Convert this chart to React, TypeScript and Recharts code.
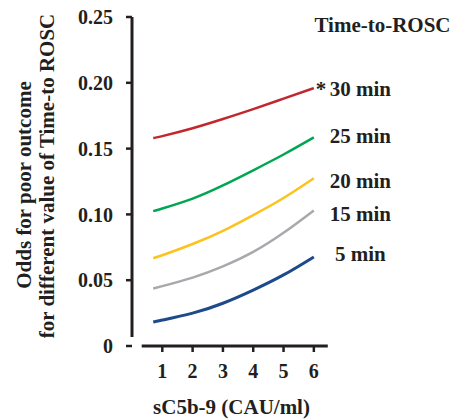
import React from 'react';
import { LineChart, Line, XAxis, YAxis, ReferenceLine, LabelList } from 'recharts';

// sC5b-9 values (x) and predicted odds per Time-to-ROSC group
const xValues = [0.7, 1, 2, 3, 4, 5, 6];
const min30 = [0.158, 0.1595, 0.1655, 0.1725, 0.18, 0.188, 0.196];
const min25 = [0.1025, 0.1045, 0.112, 0.122, 0.1335, 0.1455, 0.1585];
const min20 = [0.0669, 0.069, 0.0775, 0.0875, 0.0995, 0.1125, 0.1275];
const min15 = [0.0437, 0.0455, 0.052, 0.0605, 0.0715, 0.086, 0.103];
const min5 = [0.0182, 0.0197, 0.025, 0.0325, 0.0425, 0.054, 0.0677];

const xTicks = [1, 2, 3, 4, 5, 6];
const yTicks = [0, 0.05, 0.1, 0.15, 0.2, 0.25];

const seriesNames = ['30 min', '25 min', '20 min', '15 min', '5 min'];
const seriesKeys = ['m30', 'm25', 'm20', 'm15', 'm5'];
const seriesValues = [min30, min25, min20, min15, min5];

const data = xValues.map((x, i) => {
  const row: Record<string, number> = { x };
  seriesKeys.forEach((k, s) => {
    row[k] = seriesValues[s][i];
  });
  return row;
});

const colors = ['#c1272d', '#00a651', '#fcc31e', '#a7a9ac', '#1c4a8a'];
const widths = [2.5, 2.5, 2.5, 2.5, 3];
// nudge of each end label (baseline relative to line end)
const labelDy = [7.5, 6, 9.5, 11, 4];

const FONT = '"Liberation Serif", "Times New Roman", serif';
const INK = '#231f20';

const makeEndLabel = (s: number) => (props: any) => {
  const { x, y, index } = props;
  if (index !== data.length - 1) return null;
  return (
    <g>
      {s === 0 && (
        <text x={x + 2} y={y + labelDy[s]} fontFamily={FONT} fontWeight="bold" fontSize={21} fill={INK}>
          *
        </text>
      )}
      <text
        x={x + 46.5}
        y={y + labelDy[s]}
        textAnchor="middle"
        fontFamily={FONT}
        fontWeight="bold"
        fontSize={21}
        fill={INK}
      >
        {seriesNames[s]}
      </text>
    </g>
  );
};

const tickStyle = { fill: INK, fontSize: 20, fontWeight: 'bold', fontFamily: FONT };

export default function App() {
  return (
    <div style={{ position: 'absolute', left: 0, top: 0, width: 455, height: 420, background: '#fff' }}>
      <LineChart width={455} height={420} data={data} margin={{ top: 17, right: 126, bottom: 44, left: 72 }}>
        <XAxis
          type="number"
          dataKey="x"
          domain={[0, 6.5]}
          ticks={xTicks}
          allowDataOverflow
          axisLine={false}
          tickSize={6}
          tickMargin={12}
          tickLine={{ stroke: INK, strokeWidth: 2.5 }}
          tick={tickStyle}
        />
        <YAxis
          type="number"
          domain={[0, 0.25]}
          ticks={yTicks}
          axisLine={false}
          tickSize={6}
          tickMargin={13}
          tickLine={{ stroke: INK, strokeWidth: 2.5 }}
          tick={tickStyle}
          tickFormatter={(v: number) => (v === 0 ? '0' : v.toFixed(2))}
        />
        <ReferenceLine
          segment={[{ x: 0, y: 0.0068 }, { x: 0, y: 0.25 }]}
          stroke={INK}
          strokeWidth={3}
          ifOverflow="visible"
        />
        <ReferenceLine
          segment={[{ x: 0.32, y: 0 }, { x: 6.46, y: 0 }]}
          stroke={INK}
          strokeWidth={3}
          ifOverflow="visible"
        />
        {seriesKeys.map((k, s) => (
          <Line
            key={k}
            type="natural"
            dataKey={k}
            stroke={colors[s]}
            strokeWidth={widths[s]}
            dot={false}
            activeDot={false}
            isAnimationActive={false}
          >
            <LabelList dataKey={k} content={makeEndLabel(s)} />
          </Line>
        ))}
      </LineChart>
      <svg width={455} height={420} style={{ position: 'absolute', left: 0, top: 0, pointerEvents: 'none' }}>
        <text x={382.5} y={32} textAnchor="middle" fontFamily={FONT} fontWeight="bold" fontSize={21} fill={INK}>
          Time-to-ROSC
        </text>
        <text x={231.5} y={414} textAnchor="middle" fontFamily={FONT} fontWeight="bold" fontSize={21} fill={INK}>
          sC5b-9 (CAU/ml)
        </text>
        <text
          transform="translate(31,185) rotate(-90)"
          textAnchor="middle"
          fontFamily={FONT}
          fontWeight="bold"
          fontSize={21}
          fill={INK}
        >
          Odds for poor outcome
        </text>
        <text
          transform="translate(54,176) rotate(-90)"
          textAnchor="middle"
          fontFamily={FONT}
          fontWeight="bold"
          fontSize={21}
          fill={INK}
        >
          for different value of Time-to ROSC
        </text>
      </svg>
    </div>
  );
}
